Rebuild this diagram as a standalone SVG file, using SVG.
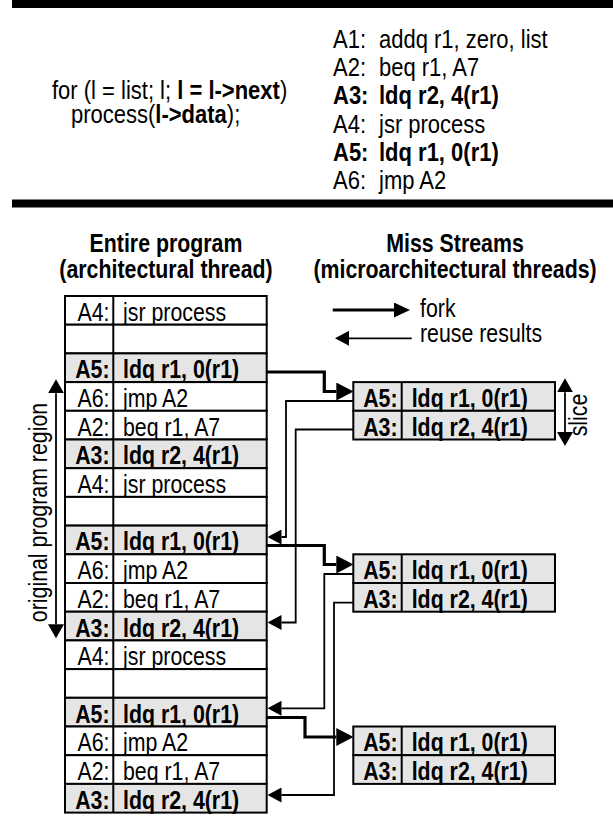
<svg xmlns="http://www.w3.org/2000/svg" width="613" height="824" viewBox="0 0 613 824">
  <style>
    .t { font-family: "Liberation Sans", Arial, Helvetica, sans-serif; font-size: 26.5px; fill: #000; }
    .b { font-weight: bold; }
    .e { text-anchor: end; }
    .m { text-anchor: middle; }
    .cell { stroke: #000; stroke-width: 2; }
    .plain { fill: #fff; }
    .shade { fill: #e5e5e5; }
    .div { stroke: #000; stroke-width: 2; }
    .fork { fill: none; stroke: #000; stroke-width: 3.2; }
    .reuse { fill: none; stroke: #000; stroke-width: 1.8; }
  </style>
  <defs>
    <marker id="fork-head" viewBox="0 -9 17 18" markerWidth="17" markerHeight="18" refX="0" refY="0" orient="auto" markerUnits="userSpaceOnUse">
      <path d="M0,-9 L17,0 L0,9 Z" fill="#000"/>
    </marker>
    <marker id="legend-fork-head" viewBox="0 -7.5 16 15" markerWidth="16" markerHeight="15" refX="0" refY="0" orient="auto" markerUnits="userSpaceOnUse">
      <path d="M0,-7.5 L16,0 L0,7.5 Z" fill="#000"/>
    </marker>
    <marker id="reuse-head" viewBox="0 -7.5 14 15" markerWidth="14" markerHeight="15" refX="0" refY="0" orient="auto" markerUnits="userSpaceOnUse">
      <path d="M0,-7.5 L14,0 L0,7.5 Z" fill="#000"/>
    </marker>
    <marker id="span-head" viewBox="0 -8 14 16" markerWidth="14" markerHeight="16" refX="0" refY="0" orient="auto-start-reverse" markerUnits="userSpaceOnUse">
      <path d="M0,-8 L14,0 L0,8 Z" fill="#000"/>
    </marker>
  </defs>

  <!-- rules -->
  <rect x="12" y="0" width="601" height="8" fill="#000"/>
  <rect x="12" y="199.5" width="601" height="8" fill="#000"/>

  <!-- source loop -->
  <g id="source-code">
    <text class="t" transform="translate(52,99) scale(0.83,1)">for (l = list; l; <tspan class="b">l = l-&gt;next</tspan>)</text>
    <text class="t" transform="translate(71,123) scale(0.83,1)">process(<tspan class="b">l-&gt;data</tspan>);</text>
  </g>

  <!-- assembly listing -->
  <g id="assembly">
    <text class="t" transform="translate(333,48) scale(0.83,1)">A1:</text>
    <text class="t" transform="translate(379,48) scale(0.83,1)">addq r1, zero, list</text>
    <text class="t" transform="translate(333,76) scale(0.83,1)">A2:</text>
    <text class="t" transform="translate(379,76) scale(0.83,1)">beq r1, A7</text>
    <text class="t b" transform="translate(333,104) scale(0.83,1)">A3:</text>
    <text class="t b" transform="translate(379,104) scale(0.83,1)">ldq r2, 4(r1)</text>
    <text class="t" transform="translate(333,132.5) scale(0.83,1)">A4:</text>
    <text class="t" transform="translate(379,132.5) scale(0.83,1)">jsr process</text>
    <text class="t b" transform="translate(333,161) scale(0.83,1)">A5:</text>
    <text class="t b" transform="translate(379,161) scale(0.83,1)">ldq r1, 0(r1)</text>
    <text class="t" transform="translate(333,189) scale(0.83,1)">A6:</text>
    <text class="t" transform="translate(379,189) scale(0.83,1)">jmp A2</text>
  </g>

  <!-- column headings -->
  <g id="headings">
    <text class="t b m" transform="translate(166,251.5) scale(0.805,1)">Entire program</text>
    <text class="t b m" transform="translate(166,278) scale(0.805,1)">(architectural thread)</text>
    <text class="t b m" transform="translate(455,251.5) scale(0.805,1)">Miss Streams</text>
    <text class="t b m" transform="translate(455,278) scale(0.805,1)">(microarchitectural threads)</text>
  </g>

  <!-- legend -->
  <g id="legend">
    <path class="fork" d="M332.7,310 H394" marker-end="url(#legend-fork-head)"/>
    <text class="t" transform="translate(420,317) scale(0.805,1)">fork</text>
    <path class="reuse" d="M411.7,338.3 H349" marker-end="url(#reuse-head)"/>
    <text class="t" transform="translate(420,341.5) scale(0.805,1)">reuse results</text>
  </g>

  <!-- architectural thread: one row per dynamic instruction -->
  <g id="arch-thread">
    <g id="row-0"><rect class="cell plain" x="65" y="296" width="201.7" height="28.7"/><line class="div" x1="113.3" y1="296" x2="113.3" y2="324.7"/>
      <text class="t e" transform="translate(109.5,320.8) scale(0.805,1)">A4:</text><text class="t" transform="translate(123,320.8) scale(0.805,1)">jsr process</text></g>
    <g id="row-1"><rect class="cell plain" x="65" y="324.7" width="201.7" height="28.7"/><line class="div" x1="113.3" y1="324.7" x2="113.3" y2="353.4"/></g>
    <g id="row-2"><rect class="cell shade" x="65" y="353.4" width="201.7" height="28.7"/><line class="div" x1="113.3" y1="353.4" x2="113.3" y2="382.1"/>
      <text class="t b e" transform="translate(109.5,378.2) scale(0.805,1)">A5:</text><text class="t b" transform="translate(123,378.2) scale(0.805,1)">ldq r1, 0(r1)</text></g>
    <g id="row-3"><rect class="cell plain" x="65" y="382.1" width="201.7" height="28.7"/><line class="div" x1="113.3" y1="382.1" x2="113.3" y2="410.8"/>
      <text class="t e" transform="translate(109.5,406.9) scale(0.805,1)">A6:</text><text class="t" transform="translate(123,406.9) scale(0.805,1)">jmp A2</text></g>
    <g id="row-4"><rect class="cell plain" x="65" y="410.8" width="201.7" height="28.7"/><line class="div" x1="113.3" y1="410.8" x2="113.3" y2="439.5"/>
      <text class="t e" transform="translate(109.5,435.6) scale(0.805,1)">A2:</text><text class="t" transform="translate(123,435.6) scale(0.805,1)">beq r1, A7</text></g>
    <g id="row-5"><rect class="cell shade" x="65" y="439.5" width="201.7" height="28.7"/><line class="div" x1="113.3" y1="439.5" x2="113.3" y2="468.2"/>
      <text class="t b e" transform="translate(109.5,464.3) scale(0.805,1)">A3:</text><text class="t b" transform="translate(123,464.3) scale(0.805,1)">ldq r2, 4(r1)</text></g>
    <g id="row-6"><rect class="cell plain" x="65" y="468.2" width="201.7" height="28.7"/><line class="div" x1="113.3" y1="468.2" x2="113.3" y2="496.9"/>
      <text class="t e" transform="translate(109.5,493) scale(0.805,1)">A4:</text><text class="t" transform="translate(123,493) scale(0.805,1)">jsr process</text></g>
    <g id="row-7"><rect class="cell plain" x="65" y="496.9" width="201.7" height="28.7"/><line class="div" x1="113.3" y1="496.9" x2="113.3" y2="525.6"/></g>
    <g id="row-8"><rect class="cell shade" x="65" y="525.6" width="201.7" height="28.7"/><line class="div" x1="113.3" y1="525.6" x2="113.3" y2="554.3"/>
      <text class="t b e" transform="translate(109.5,550.4) scale(0.805,1)">A5:</text><text class="t b" transform="translate(123,550.4) scale(0.805,1)">ldq r1, 0(r1)</text></g>
    <g id="row-9"><rect class="cell plain" x="65" y="554.3" width="201.7" height="28.7"/><line class="div" x1="113.3" y1="554.3" x2="113.3" y2="583"/>
      <text class="t e" transform="translate(109.5,579.1) scale(0.805,1)">A6:</text><text class="t" transform="translate(123,579.1) scale(0.805,1)">jmp A2</text></g>
    <g id="row-10"><rect class="cell plain" x="65" y="583" width="201.7" height="28.7"/><line class="div" x1="113.3" y1="583" x2="113.3" y2="611.7"/>
      <text class="t e" transform="translate(109.5,607.8) scale(0.805,1)">A2:</text><text class="t" transform="translate(123,607.8) scale(0.805,1)">beq r1, A7</text></g>
    <g id="row-11"><rect class="cell shade" x="65" y="611.7" width="201.7" height="28.7"/><line class="div" x1="113.3" y1="611.7" x2="113.3" y2="640.4"/>
      <text class="t b e" transform="translate(109.5,636.5) scale(0.805,1)">A3:</text><text class="t b" transform="translate(123,636.5) scale(0.805,1)">ldq r2, 4(r1)</text></g>
    <g id="row-12"><rect class="cell plain" x="65" y="640.4" width="201.7" height="28.7"/><line class="div" x1="113.3" y1="640.4" x2="113.3" y2="669.1"/>
      <text class="t e" transform="translate(109.5,665.2) scale(0.805,1)">A4:</text><text class="t" transform="translate(123,665.2) scale(0.805,1)">jsr process</text></g>
    <g id="row-13"><rect class="cell plain" x="65" y="669.1" width="201.7" height="28.7"/><line class="div" x1="113.3" y1="669.1" x2="113.3" y2="697.8"/></g>
    <g id="row-14"><rect class="cell shade" x="65" y="697.8" width="201.7" height="28.7"/><line class="div" x1="113.3" y1="697.8" x2="113.3" y2="726.5"/>
      <text class="t b e" transform="translate(109.5,722.6) scale(0.805,1)">A5:</text><text class="t b" transform="translate(123,722.6) scale(0.805,1)">ldq r1, 0(r1)</text></g>
    <g id="row-15"><rect class="cell plain" x="65" y="726.5" width="201.7" height="28.7"/><line class="div" x1="113.3" y1="726.5" x2="113.3" y2="755.2"/>
      <text class="t e" transform="translate(109.5,751.3) scale(0.805,1)">A6:</text><text class="t" transform="translate(123,751.3) scale(0.805,1)">jmp A2</text></g>
    <g id="row-16"><rect class="cell plain" x="65" y="755.2" width="201.7" height="28.7"/><line class="div" x1="113.3" y1="755.2" x2="113.3" y2="783.9"/>
      <text class="t e" transform="translate(109.5,780) scale(0.805,1)">A2:</text><text class="t" transform="translate(123,780) scale(0.805,1)">beq r1, A7</text></g>
    <g id="row-17"><rect class="cell shade" x="65" y="783.9" width="201.7" height="28.7"/><line class="div" x1="113.3" y1="783.9" x2="113.3" y2="812.6"/>
      <text class="t b e" transform="translate(109.5,808.7) scale(0.805,1)">A3:</text><text class="t b" transform="translate(123,808.7) scale(0.805,1)">ldq r2, 4(r1)</text></g>
  </g>

  <!-- region marker -->
  <g id="program-region">
    <path class="reuse" d="M56,393.3 V624.3" marker-start="url(#span-head)" marker-end="url(#span-head)"/>
    <text class="t m" transform="translate(47,512.5) rotate(-90) scale(0.805,1)">original program region</text>
  </g>

  <!-- miss streams -->
  <g id="stream-1">
    <rect class="cell shade" x="353.3" y="382.1" width="201.7" height="28.7"/>
    <rect class="cell shade" x="353.3" y="410.8" width="201.7" height="28.7"/>
    <line class="div" x1="401.7" y1="382.1" x2="401.7" y2="439.5"/>
    <text class="t b e" transform="translate(397.5,406.9) scale(0.805,1)">A5:</text><text class="t b" transform="translate(411.7,406.9) scale(0.805,1)">ldq r1, 0(r1)</text>
    <text class="t b e" transform="translate(397.5,435.6) scale(0.805,1)">A3:</text><text class="t b" transform="translate(411.7,435.6) scale(0.805,1)">ldq r2, 4(r1)</text>
  </g>
  <g id="stream-2">
    <rect class="cell shade" x="353.3" y="554.3" width="201.7" height="28.7"/>
    <rect class="cell shade" x="353.3" y="583" width="201.7" height="28.7"/>
    <line class="div" x1="401.7" y1="554.3" x2="401.7" y2="611.7"/>
    <text class="t b e" transform="translate(397.5,579.1) scale(0.805,1)">A5:</text><text class="t b" transform="translate(411.7,579.1) scale(0.805,1)">ldq r1, 0(r1)</text>
    <text class="t b e" transform="translate(397.5,607.8) scale(0.805,1)">A3:</text><text class="t b" transform="translate(411.7,607.8) scale(0.805,1)">ldq r2, 4(r1)</text>
  </g>
  <g id="stream-3">
    <rect class="cell shade" x="353.3" y="726.5" width="201.7" height="28.7"/>
    <rect class="cell shade" x="353.3" y="755.2" width="201.7" height="28.7"/>
    <line class="div" x1="401.7" y1="726.5" x2="401.7" y2="783.9"/>
    <text class="t b e" transform="translate(397.5,751.3) scale(0.805,1)">A5:</text><text class="t b" transform="translate(411.7,751.3) scale(0.805,1)">ldq r1, 0(r1)</text>
    <text class="t b e" transform="translate(397.5,780) scale(0.805,1)">A3:</text><text class="t b" transform="translate(411.7,780) scale(0.805,1)">ldq r2, 4(r1)</text>
  </g>

  <!-- slice extent -->
  <g id="slice">
    <path class="reuse" d="M565,392.3 V432" marker-start="url(#span-head)" marker-end="url(#span-head)"/>
    <text class="t m" transform="translate(587,415) rotate(-90) scale(0.805,1)">slice</text>
  </g>

  <!-- connectors -->
  <g id="connectors">
    <path class="fork" d="M266.7,372 H324.3 V391.5 H336.3" marker-end="url(#fork-head)"/>
    <path class="fork" d="M266.7,545.5 H324.3 V564.5 H336.3" marker-end="url(#fork-head)"/>
    <path class="fork" d="M266.7,717.5 H305 V737 H336.3" marker-end="url(#fork-head)"/>
    <path class="reuse" d="M353.3,401 H286 V537 H281.5" marker-end="url(#reuse-head)"/>
    <path class="reuse" d="M353.3,429.5 H295.7 V622.5 H281.5" marker-end="url(#reuse-head)"/>
    <path class="reuse" d="M353.3,574 H324.3 V708.3 H281.5" marker-end="url(#reuse-head)"/>
    <path class="reuse" d="M353.3,602.7 H334 V795 H281.5" marker-end="url(#reuse-head)"/>
  </g>
</svg>
